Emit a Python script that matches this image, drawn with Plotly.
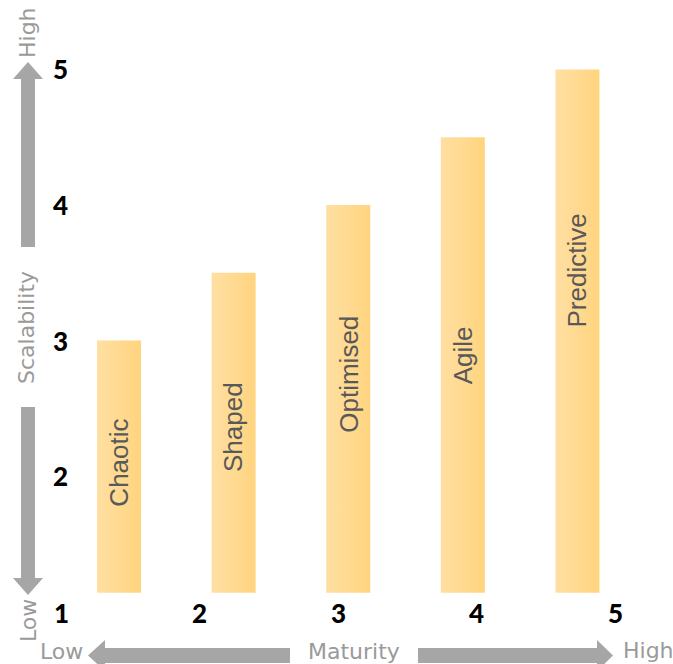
import plotly.graph_objects as go

# ---------------- data ----------------
stages = ["Chaotic", "Shaped", "Optimised", "Agile", "Predictive"]
scalability = [3.0, 3.5, 4.0, 4.5, 5.0]
bar_base = 1.14
maturity_ticks = [1, 2, 3, 4, 5]
scalability_ticks = [2, 3, 4, 5]
x_title = "Maturity"
y_title = "Scalability"
low_label = "Low"
high_label = "High"

# ---------------- layout helpers ----------------
W, H = 673, 664
GRAY = "#A6A6A6"
TEXT_GRAY = "#9A9A9A"
BAR_TEXT = "#595959"
BAR_LEFT = "#FFDFA2"
BAR_RIGHT = "#FFD47F"
BAR_HALF = 0.192

# axis ranges (plot area covers whole page)
X_RANGE = [0.5599, 5.4156]
X2_RANGE = [-1.0384, 4.834]
Y_RANGE = [0.615, 5.512]

# label centres inside bars (y, in scalability units)
label_y = [2.10, 2.36, 2.75, 2.89, 3.52]


def px(xp, yp):
    return xp / W, 1 - yp / H


def path(points):
    pts = [px(a, b) for a, b in points]
    s = "M " + " L ".join(f"{a:.5f},{b:.5f}" for a, b in pts) + " Z"
    return s


fig = go.Figure()

for i, (name, val) in enumerate(zip(stages, scalability)):
    xs = [i - BAR_HALF, i + BAR_HALF, i + BAR_HALF, i - BAR_HALF, i - BAR_HALF]
    ys = [bar_base, bar_base, val, val, bar_base]
    fig.add_trace(go.Scatter(
        x=xs, y=ys, xaxis="x2", yaxis="y",
        mode="lines", fill="toself",
        line=dict(width=0, color=BAR_RIGHT),
        fillgradient=dict(type="horizontal",
                          colorscale=[[0, BAR_LEFT], [1, BAR_RIGHT]]),
        hoverinfo="skip", showlegend=False, name=name,
    ))
    fig.add_annotation(
        x=i, y=label_y[i], xref="x2", yref="y",
        text=name, textangle=-90, showarrow=False,
        font=dict(family="Liberation Sans, Arial", size=26, color=BAR_TEXT),
        xanchor="center", yanchor="middle",
    )

tick_font = dict(family="Lato, Liberation Sans", size=26, color="#000000", weight=900)
# tick labels
for v in maturity_ticks:
    fig.add_annotation(
        x=v, y=px(0, 613)[1], xref="x", yref="paper",
        text=str(v), showarrow=False, font=tick_font,
        xanchor="center", yanchor="middle",
    )
for v in scalability_ticks:
    fig.add_annotation(
        x=px(60, 0)[0], y=v, xref="paper", yref="y",
        text=str(v), showarrow=False, font=tick_font,
        xanchor="center", yanchor="middle",
    )

# arrows
shapes = []
arrow_pts = [
    # up
    [(21, 247), (21, 79), (13, 79), (28, 62), (43, 79), (35, 79), (35, 247)],
    # down
    [(21, 407), (21, 578), (13, 578), (28, 595), (43, 578), (35, 578), (35, 407)],
    # left
    [(290, 648), (105, 648), (105, 640), (88, 655.5), (105, 671), (105, 663), (290, 663)],
    # right
    [(418, 648), (597, 648), (597, 640), (613, 655.5), (597, 671), (597, 663), (418, 663)],
]
for pts in arrow_pts:
    shapes.append(dict(type="path", xref="paper", yref="paper", path=path(pts),
                       fillcolor=GRAY, line=dict(width=0), layer="above"))

gray_font = dict(family="DejaVu Sans, Liberation Sans", size=22, color=TEXT_GRAY)
texts = [
    (high_label, 28, 33, -90),
    (y_title, 27, 328, -90),
    (low_label, 28, 621, -90),
    (low_label, 61, 651, 0),
    (x_title, 354, 651, 0),
    (high_label, 648, 650, 0),
]
for t, xp, yp, ang in texts:
    ax, ay = px(xp, yp)
    fig.add_annotation(x=ax, y=ay, xref="paper", yref="paper", text=t,
                       textangle=ang, showarrow=False, font=gray_font,
                       xanchor="center", yanchor="middle")

fig.update_layout(
    width=W, height=H,
    margin=dict(l=0, r=0, t=0, b=0, autoexpand=False),
    paper_bgcolor="white", plot_bgcolor="white",
    shapes=shapes,
    xaxis=dict(range=X_RANGE, visible=False, domain=[0, 1]),
    xaxis2=dict(range=X2_RANGE, visible=False, overlaying="x", domain=[0, 1]),
    yaxis=dict(range=Y_RANGE, visible=False, domain=[0, 1]),
    showlegend=False,
)

fig.write_html("out.html")
